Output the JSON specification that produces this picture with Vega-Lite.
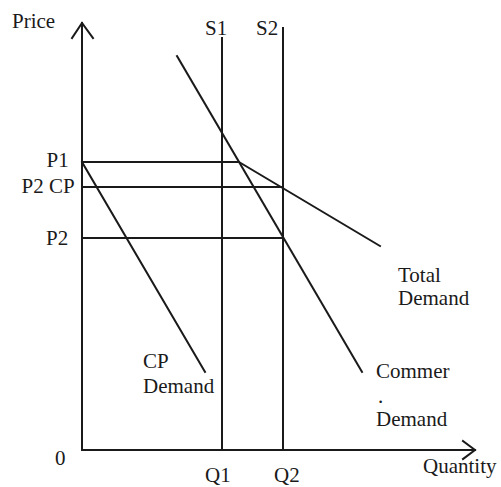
{
  "$schema": "https://vega.github.io/schema/vega-lite/v6.json",
  "width": 501,
  "height": 487,
  "autosize": {"type": "fit", "contains": "padding"},
  "padding": 0,
  "background": "white",
  "config": {"view": {"stroke": null}},
  "datasets": {
    "lines": [
      {"seg": "yaxis", "ord": 1, "x": 0, "y": 0},
      {"seg": "yaxis", "ord": 2, "x": 0, "y": 21.35},
      {"seg": "yarrow", "ord": 1, "x": -0.5, "y": 20.6},
      {"seg": "yarrow", "ord": 2, "x": 0, "y": 21.35},
      {"seg": "yarrow", "ord": 3, "x": 0.55, "y": 20.6},
      {"seg": "xaxis", "ord": 1, "x": 0, "y": 0},
      {"seg": "xaxis", "ord": 2, "x": 19.65, "y": 0},
      {"seg": "xarrow", "ord": 1, "x": 19.05, "y": 0.45},
      {"seg": "xarrow", "ord": 2, "x": 19.65, "y": 0},
      {"seg": "xarrow", "ord": 3, "x": 19.05, "y": -0.45},
      {"seg": "S1", "ord": 1, "x": 7, "y": 0},
      {"seg": "S1", "ord": 2, "x": 7, "y": 20.6},
      {"seg": "S2", "ord": 1, "x": 10.05, "y": 0},
      {"seg": "S2", "ord": 2, "x": 10.05, "y": 21.1},
      {"seg": "P1", "ord": 1, "x": 0, "y": 14.4},
      {"seg": "P1", "ord": 2, "x": 7.85, "y": 14.4},
      {"seg": "P2CP", "ord": 1, "x": 0, "y": 13.15},
      {"seg": "P2CP", "ord": 2, "x": 10.05, "y": 13.15},
      {"seg": "P2", "ord": 1, "x": 0, "y": 10.6},
      {"seg": "P2", "ord": 2, "x": 10.05, "y": 10.6},
      {"seg": "CPD", "ord": 1, "x": 0, "y": 14.4},
      {"seg": "CPD", "ord": 2, "x": 6.15, "y": 3.9},
      {"seg": "ComD", "ord": 1, "x": 4.75, "y": 19.7},
      {"seg": "ComD", "ord": 2, "x": 14, "y": 3.9},
      {"seg": "TotD", "ord": 1, "x": 7.85, "y": 14.4},
      {"seg": "TotD", "ord": 2, "x": 14.9, "y": 10.2}
    ],
    "labels": [
      {"x": -3.5, "y": 21.08, "t": "Price"},
      {"x": 6.15, "y": 20.75, "t": "S1"},
      {"x": 8.7, "y": 20.75, "t": "S2"},
      {"x": -1.77, "y": 14.17, "t": "P1"},
      {"x": -3.02, "y": 12.83, "t": "P2 CP"},
      {"x": -1.8, "y": 10.25, "t": "P2"},
      {"x": -1.35, "y": -0.75, "t": "0"},
      {"x": 6.15, "y": -1.6, "t": "Q1"},
      {"x": 9.6, "y": -1.6, "t": "Q2"},
      {"x": 17.05, "y": -1.15, "t": "Quantity"},
      {"x": 3.05, "y": 4.1, "t": "CP"},
      {"x": 3.05, "y": 2.85, "t": "Demand"},
      {"x": 15.8, "y": 8.4, "t": "Total"},
      {"x": 15.8, "y": 7.25, "t": "Demand"},
      {"x": 14.7, "y": 3.6, "t": "Commer"},
      {"x": 14.8, "y": 2.35, "t": "."},
      {"x": 14.7, "y": 1.2, "t": "Demand"}
    ]
  },
  "layer": [
    {
      "data": {"name": "lines"},
      "mark": {"type": "line", "color": "#1a1a1a", "strokeWidth": 2, "strokeCap": "square"},
      "encoding": {
        "x": {"field": "x", "type": "quantitative", "scale": {"domain": [-4.1, 20.95], "nice": false, "zero": false}, "axis": null},
        "y": {"field": "y", "type": "quantitative", "scale": {"domain": [-1.85, 22.5], "nice": false, "zero": false}, "axis": null},
        "detail": {"field": "seg"},
        "order": {"field": "ord"}
      }
    },
    {
      "data": {"name": "labels"},
      "mark": {"type": "text", "align": "left", "baseline": "alphabetic", "font": "Liberation Serif", "fontSize": 21, "color": "#1a1a1a"},
      "encoding": {
        "x": {"field": "x", "type": "quantitative"},
        "y": {"field": "y", "type": "quantitative"},
        "text": {"field": "t"}
      }
    }
  ]
}
